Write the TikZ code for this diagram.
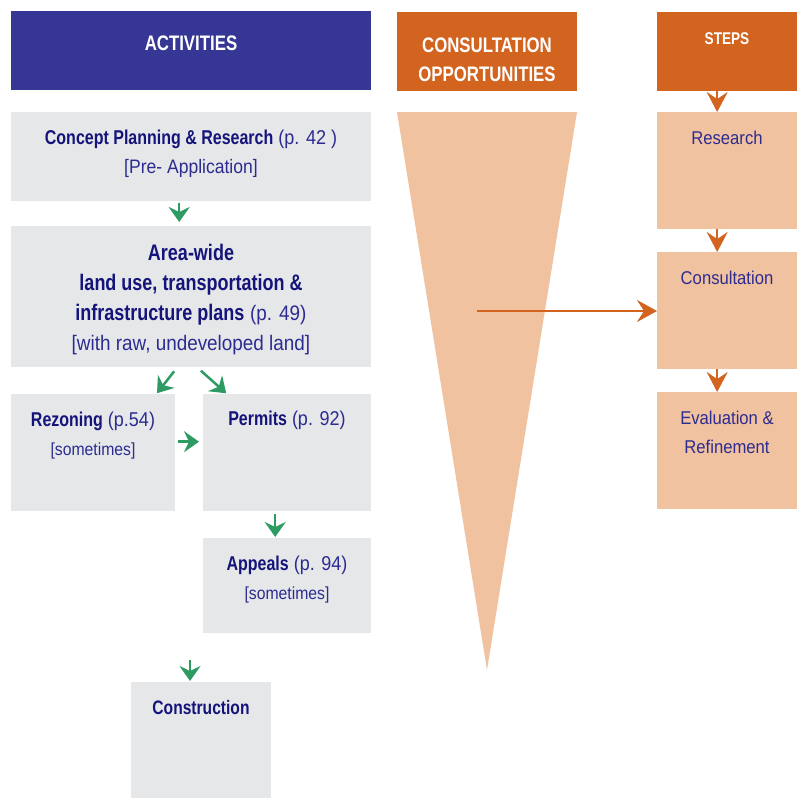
\documentclass[tikz,border=0pt]{standalone}
\usepackage{fontspec}
\setmainfont[FakeStretch=0.9,BoldFeatures={FakeStretch=0.8}]{Liberation Sans}
\usepackage{xcolor}
\usepackage{tikz}
\usetikzlibrary{arrows.meta}
\usetikzlibrary{positioning}

\definecolor{actblue}{HTML}{363795}
\definecolor{conorange}{HTML}{D2641F}
\definecolor{boxgray}{HTML}{E6E7E9}
\definecolor{peach}{HTML}{F1C2A0}
\definecolor{arrowgreen}{HTML}{2E9B63}
\definecolor{navy}{HTML}{14147A}
\definecolor{txtblue}{HTML}{2C2C90}

\newcommand{\hd}[1]{\textcolor{navy}{\bfseries #1}}

\begin{document}
\begin{tikzpicture}[x=1pt,y=-1pt,
  box/.style={fill=boxgray,anchor=north west,inner sep=0pt},
  stepbox/.style={fill=peach,anchor=north west,inner sep=0pt,minimum width=140pt,minimum height=117pt},
  headbox/.style={anchor=north west,inner sep=0pt,minimum height=79pt},
  headtxt/.style={text=white,align=center,inner sep=0pt,font=\fontsize{21}{29}\selectfont\bfseries},
  txt/.style={text=txtblue,align=center,inner sep=0pt,font=\fontsize{20}{29}\selectfont},
  steptxt/.style={txt,font=\fontsize{18.5}{29}\selectfont},
  garrow/.style={draw=arrowgreen,line width=2.5pt,-{Stealth[length=15pt,width=21pt,inset=5pt]}},
  oarrow/.style={draw=conorange,line width=2pt,-{Stealth[length=20pt,width=21pt,inset=7pt]}}]

\useasboundingbox (0,0) rectangle (797,798);

% headers
\node[headbox,fill=actblue,minimum width=360pt] (act) at (11,11) {};
\node[headbox,fill=conorange,minimum width=180pt] (cons) at (397,12) {};
\node[headbox,fill=conorange,minimum width=140pt] (steps) at (657,12) {};
\node[headtxt] (actTxt) at (191,43) {ACTIVITIES};
\node[headtxt] (consTxt) at (487,60) {CONSULTATION\\OPPORTUNITIES};
\node[headtxt,font=\fontsize{17}{29}\selectfont\bfseries] (stepsTxt) at (727,39) {STEPS};

% funnel
\fill[peach] (397,112) -- (577,112) -- (487,670) -- cycle;
\coordinate (funnelmid) at (477,311);

% activities
\node[box,minimum width=360pt,minimum height=89pt] (concept) at (11,112) {};
\node[box,minimum width=360pt,minimum height=141pt] (area) at (11,226) {};
\node[box,minimum width=164pt,minimum height=117pt] (rezon) at (11,394) {};
\node[box,minimum width=168pt,minimum height=117pt] (permit) at (203,394) {};
\node[box,minimum width=168pt,minimum height=95pt] (appeal) at (203,538) {};
\node[box,minimum width=140pt,minimum height=116pt] (constr) at (131,682) {};

\node[txt] (conceptTxt) at (191,154)
  {\hd{Concept Planning \& Research} (p. 42 )\\{\fontsize{19.5}{29}\selectfont [Pre- Application]}};
\node[txt,font=\fontsize{22.5}{30}\selectfont] (areaTxt) at (191,299.5)
  {\hd{Area-wide}\\\hd{land use, transportation \&}\\\hd{infrastructure plans} {\fontsize{21}{30}\selectfont(p. 49)}\\{\fontsize{21}{30}\selectfont [with raw, undeveloped land]}};
\node[txt] (rezonTxt) at (93,436)
  {\hd{Rezoning} (p.54)\\{\fontsize{17.5}{29}\selectfont [sometimes]}};
\node[txt] (permitTxt) at (287,420.5) {\hd{Permits} (p. 92)};
\node[txt] (appealTxt) at (287,580)
  {\hd{Appeals} (p. 94)\\{\fontsize{17.5}{29}\selectfont [sometimes]}};
\node[txt,font=\fontsize{19.5}{29}\selectfont] (constrTxt) at (201,708) {\hd{Construction}};

% steps
\node[stepbox] (research) at (657,112) {};
\node[stepbox] (consult) at (657,252) {};
\node[stepbox] (evalu) at (657,392) {};
\node[steptxt] (researchTxt) at (727,138) {Research};
\node[steptxt] (consultTxt) at (727,278) {Consultation};
\node[steptxt] (evaluTxt) at (727,432) {Evaluation \&\\Refinement};

% green arrows
\draw[garrow,shorten <=2pt,shorten >=4pt] ([xshift=-12pt]concept.south) -- ([xshift=-12pt]area.north);
\draw[garrow,shorten <=5pt,shorten >=1pt] ([xshift=-14pt]area.south) -- ([xshift=-19pt]rezon.north east);
\draw[garrow,shorten <=5pt,shorten >=1pt] ([xshift=6pt]area.south) -- ([xshift=24pt]permit.north west);
\draw[garrow,shorten <=3pt,shorten >=4pt] ([yshift=11pt]rezon.east) -- ([yshift=11pt]rezon.east -| permit.west);
\draw[garrow,shorten <=3pt,shorten >=1pt] ([xshift=-12pt]permit.south) -- ([xshift=-12pt]appeal.north);
\coordinate (toconstr) at (190,660);
\draw[garrow,shorten >=1pt] (toconstr) -- (toconstr |- constr.north);

% orange arrows
\draw[oarrow] ([xshift=-10pt]steps.south) -- ([xshift=-10pt]research.north);
\draw[oarrow] ([xshift=-10pt]research.south) -- ([xshift=-10pt]consult.north);
\draw[oarrow] ([xshift=-10pt]consult.south) -- ([xshift=-10pt]evalu.north);
\draw[oarrow,-{Stealth[length=20pt,width=22pt,inset=7pt]}] (funnelmid) -- (funnelmid -| consult.west);

\end{tikzpicture}
\end{document}
